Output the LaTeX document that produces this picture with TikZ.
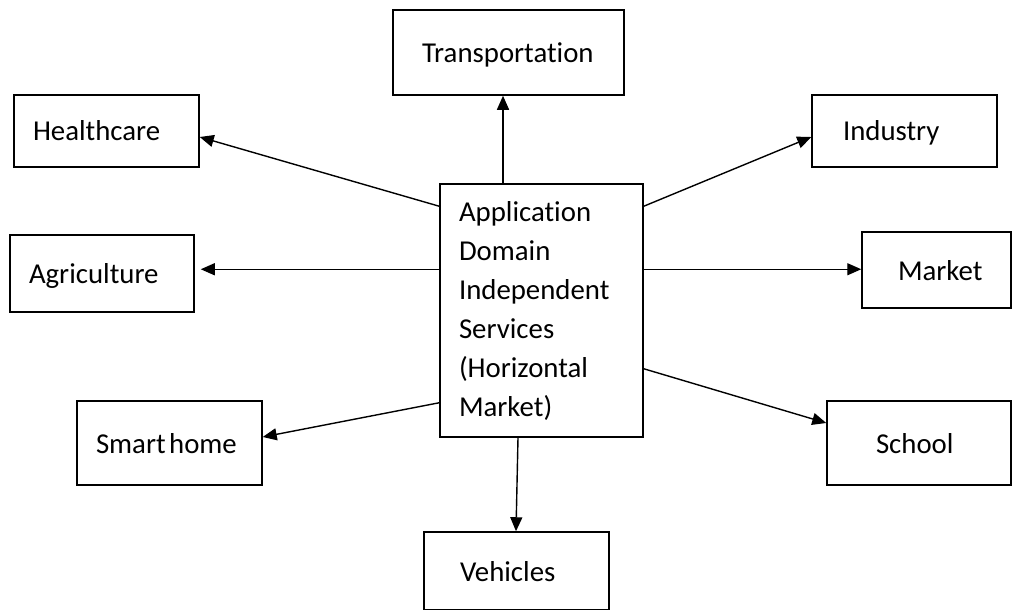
\documentclass[tikz,border=0pt]{standalone}
\usepackage{fontspec}
\setmainfont{Carlito}[Ligatures=NoCommon]
\usetikzlibrary{arrows.meta}
\begin{document}
\begin{tikzpicture}[x=1pt,y=-1pt,
  font=\fontsize{28.8}{39}\selectfont,
  box/.style 2 args={draw, line width=1.5pt, rectangle, align=left,
    inner ysep=0pt, inner xsep=#2, text width=#1-2*#2,
    minimum width=#1},
  leaf/.style 2 args={box={#1}{#2}, text depth=0pt},
  arr/.style={line width=1.4pt, -{Triangle[length=14pt,width=12pt]}}]
\useasboundingbox (0,0) rectangle (1012,610);

% central services box
\node[box={203pt}{19pt}, minimum height=253pt] (C) at (541.5,310.5)
  {Application\\Domain\\Independent\\Services\\(Horizontal\\Market)};

% application domains
\node[leaf={231pt}{29pt}, minimum height=85pt] (T)  at (508.5,52.5) {Transportation};
\node[leaf={185pt}{19pt}, minimum height=72pt] (H)  at (106.5,131)  {Healthcare};
\node[leaf={185pt}{31pt}, minimum height=72pt] (I)  at (904.5,131)  {Industry};
\node[leaf={184pt}{19pt}, minimum height=77pt] (A)  at (102,273.5)  {Agriculture};
\node[leaf={149pt}{36pt}, minimum height=76pt] (M)  at (936.5,270)  {Market};
\node[leaf={185pt}{19pt}, minimum height=84pt] (S)  at (169.5,443)  {Smart\hspace{0.12em}home};
\node[leaf={184pt}{49pt}, minimum height=84pt] (Sc) at (919,443)    {School};
\node[leaf={185pt}{36pt}, minimum height=78pt] (V)  at (516.5,571)  {Vehicles};

% connectors
\draw[arr] ([xshift=-38.5pt]C.north) coordinate (t0) -- (t0 |- T.south);
\draw[arr] ([yshift=-23pt]C.north west) -- ([yshift=-6pt]H.east);
\draw[arr] ([yshift=-86pt]C.north west) coordinate (a0) -- ([xshift=6pt]A.east |- a0);
\draw[arr] ([yshift=-23pt]C.north east) -- ([yshift=-6pt]I.west);
\draw[arr] ([yshift=-86pt]C.north east) coordinate (m0) -- (M.west |- m0);
\draw[arr] ([yshift=35pt]C.south west) -- ([yshift=6pt]S.east);
\draw[arr] ([yshift=69pt]C.south east) -- ([yshift=20pt]Sc.west);
\draw[arr] ([xshift=-23.5pt]C.south) -- ([xshift=-0.5pt]V.north);
\end{tikzpicture}
\end{document}
